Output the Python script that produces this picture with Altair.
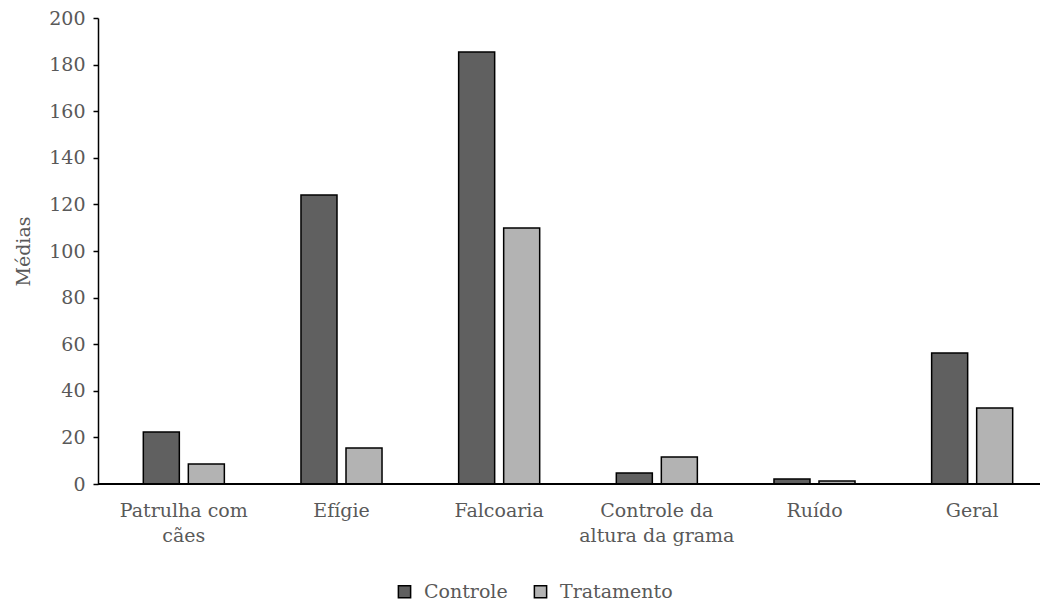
import altair as alt
import pandas as pd

categories = ["Patrulha com cães", "Efígie", "Falcoaria", "Controle da altura da grama", "Ruído", "Geral"]
controle = [22.3, 124.0, 185.4, 4.7, 2.1, 56.2]
tratamento = [8.6, 15.5, 109.9, 11.6, 1.3, 32.6]
series_names = ["Controle", "Tratamento"]
y_ticks = list(range(0, 201, 20))

rows = []
for c, a, b in zip(categories, controle, tratamento):
    rows.append({"cat": c, "series": series_names[0], "value": a})
    rows.append({"cat": c, "series": series_names[1], "value": b})
df = pd.DataFrame(rows)

FONT = "DejaVu Serif"
FS = 19
TXT = "#595959"
W, H = 942, 466

label_expr = (
    "datum.label == 'Patrulha com cães' ? ['Patrulha com', 'cães'] : "
    "datum.label == 'Controle da altura da grama' ? ['Controle da', 'altura da grama'] : datum.label"
)

bars = alt.Chart(df).mark_bar(stroke="black", strokeWidth=1.5).encode(
    x=alt.X("cat:N", sort=categories, title=None,
            scale=alt.Scale(range=[7, 953], paddingInner=0.486, paddingOuter=0.243),
            axis=alt.Axis(labelAngle=0, ticks=False, domain=False, labelExpr=label_expr,
                          labelPadding=17, labelFontSize=FS, labelFont=FONT, labelColor=TXT,
                          labelLineHeight=25)),
    xOffset=alt.XOffset("series:N", sort=series_names,
                        scale=alt.Scale(paddingInner=0.2, paddingOuter=0)),
    y=alt.Y("value:Q", title="Médias",
            scale=alt.Scale(domain=[0, 200], nice=False),
            axis=alt.Axis(values=y_ticks, grid=False, tickSize=5, tickColor="black",
                          domainColor="black", domainWidth=1.5, tickWidth=1.5,
                          labelFontSize=FS, labelFont=FONT, labelColor=TXT, labelPadding=8,
                          titleFont=FONT, titleFontSize=FS, titleColor=TXT,
                          titleFontWeight="normal", titlePadding=15)),
    color=alt.Color("series:N", sort=series_names, title=None,
                    scale=alt.Scale(domain=series_names, range=["#606060", "#b3b3b3"]),
                    legend=alt.Legend(orient="none", legendX=297, legendY=564, direction="horizontal",
                                      symbolType="square", symbolSize=150,
                                      symbolStrokeColor="black", symbolStrokeWidth=1.5,
                                      labelFont=FONT, labelFontSize=FS, labelColor=TXT,
                                      columnPadding=23, labelOffset=10)),
)

baseline = alt.Chart(df).mark_rule(color="black", strokeWidth=1.5).encode(
    y=alt.datum(0), x=alt.value(0), x2=alt.value(W)
)

chart = alt.layer(bars, baseline).properties(
    width=W, height=H,
    autosize=alt.AutoSizeParams(type="none"),
    padding={"left": 90, "top": 10, "right": 0, "bottom": 118},
).configure(background="white", font=FONT).configure_view(stroke=None, strokeWidth=0)

chart.save("out.html", embed_options={"renderer": "svg", "actions": False})
